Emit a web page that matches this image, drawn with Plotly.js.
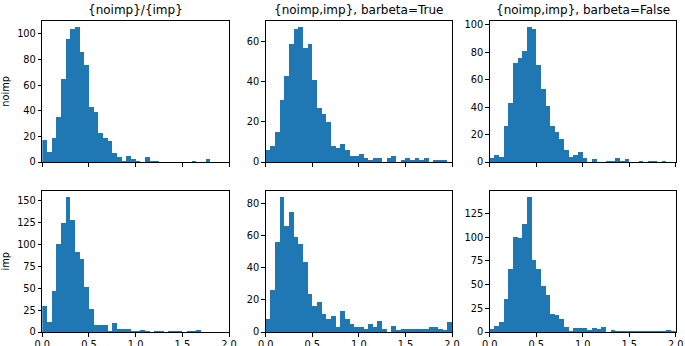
<!DOCTYPE html>
<html>
<head>
<meta charset="utf-8">
<script src="https://cdn.plot.ly/plotly-3.0.1.min.js"></script>
<style>html,body{margin:0;padding:0;background:#fff;}#chart{width:685px;height:346px;}</style>
</head>
<body>
<div id="chart"></div>
<script>
// ---- data ----
const binStart = 0.0;
const binWidth = 0.05;
const nBins = 40;
const colTitles = ["{noimp}/{imp}", "{noimp,imp}, barbeta=True", "{noimp,imp}, barbeta=False"];
const rowLabels = ["noimp", "imp"];
const xTickVals = [0, 0.5, 1.0, 1.5, 2.0];

const noimpRatio = [17,8,19,35,65,96,104,105,86,76,43,39,23,19,16,7,4,1,5,2,1,0,4,1,1,0,0,0,0,0,0,0,1,0,0,2,0,0,0,0];
const noimpBarbetaTrue = [6,8,15,31,43,59,66,67,57,59,41,27,24,20,8,7,9,6,3,3,4,2,1,2,2,0,2,3,0,1,2,1,2,1,2,0,1,1,1,0];
const noimpBarbetaFalse = [3,5,4,26,43,72,76,81,98,97,71,53,41,26,22,17,9,4,5,7,3,0,2,0,0,1,1,3,1,2,0,0,1,0,1,1,0,1,0,0];
const impRatio = [30,11,47,101,125,154,128,91,84,51,26,8,8,8,1,10,3,3,3,1,1,2,1,0,1,1,0,1,1,1,0,1,1,2,0,0,0,0,0,0];
const impBarbetaTrue = [8,26,56,84,66,75,59,55,44,24,16,19,11,8,10,3,13,8,5,3,3,2,5,3,7,2,0,4,1,2,2,2,2,2,2,3,3,2,1,6];
const impBarbetaFalse = [3,6,11,35,66,100,99,114,142,76,67,49,39,19,18,14,5,1,4,4,4,2,4,3,5,0,2,1,1,1,1,1,1,1,1,1,1,1,2,1];

const yTickSteps = [20, 20, 20, 25, 20, 25];

// ---- build ----
const panels = [noimpRatio, noimpBarbetaTrue, noimpBarbetaFalse, impRatio, impBarbetaTrue, impBarbetaFalse];
const binLefts = Array.from({length: nBins}, (_, i) => binStart + i * binWidth);

const W = 685, H = 346;
const colPx = [[42.3, 229], [265.7, 452], [489.7, 675.7]];
const rowPx = [[20.7, 162], [190.7, 332]];
const font = {family: "DejaVu Sans", size: 9.8, color: "#000"};

const traces = [];
const layout = {
  width: W, height: H,
  margin: {l: 0, r: 0, t: 0, b: 0},
  paper_bgcolor: "#fff", plot_bgcolor: "#fff",
  showlegend: false, bargap: 0,
  font: font,
  annotations: []
};

panels.forEach((counts, k) => {
  const r = Math.floor(k / 3), c = k % 3;
  const n = k + 1;
  const xa = "x" + (n === 1 ? "" : n), ya = "y" + (n === 1 ? "" : n);
  traces.push({
    type: "bar", x: binLefts, y: counts, width: binWidth, offset: 0,
    marker: {color: "#1f77b4", line: {width: 0}},
    xaxis: xa, yaxis: ya, hoverinfo: "skip"
  });
  const maxv = Math.max(...counts);
  const common = {
    showline: true, mirror: true, linecolor: "#000", linewidth: 1,
    ticks: "outside", ticklen: 3.5, tickwidth: 1, tickcolor: "#000",
    showgrid: false, zeroline: false, tickfont: font
  };
  layout["xaxis" + (n === 1 ? "" : n)] = Object.assign({}, common, {
    domain: [colPx[c][0] / W, colPx[c][1] / W],
    range: [0, 2], tickvals: xTickVals, tickformat: ".1f",
    showticklabels: r === 1, anchor: ya
  });
  const yax = Object.assign({}, common, {
    domain: [1 - rowPx[r][1] / H, 1 - rowPx[r][0] / H],
    range: [0, maxv * 1.05], dtick: yTickSteps[k], tick0: 0,
    anchor: xa
  });
  if (c === 0) {
    yax.title = {text: rowLabels[r], font: font, standoff: 5};
  }
  layout["yaxis" + (n === 1 ? "" : n)] = yax;
  if (r === 0) {
    layout.annotations.push({
      text: colTitles[c], xref: "paper", yref: "paper",
      x: (colPx[c][0] + colPx[c][1]) / 2 / W, y: 1 - rowPx[0][0] / H,
      xanchor: "center", yanchor: "bottom", yshift: 2, showarrow: false,
      font: {family: "DejaVu Sans", size: 12, color: "#000"}
    });
  }
});

Plotly.newPlot("chart", traces, layout, {staticPlot: true, displayModeBar: false});
</script>
</body>
</html>
